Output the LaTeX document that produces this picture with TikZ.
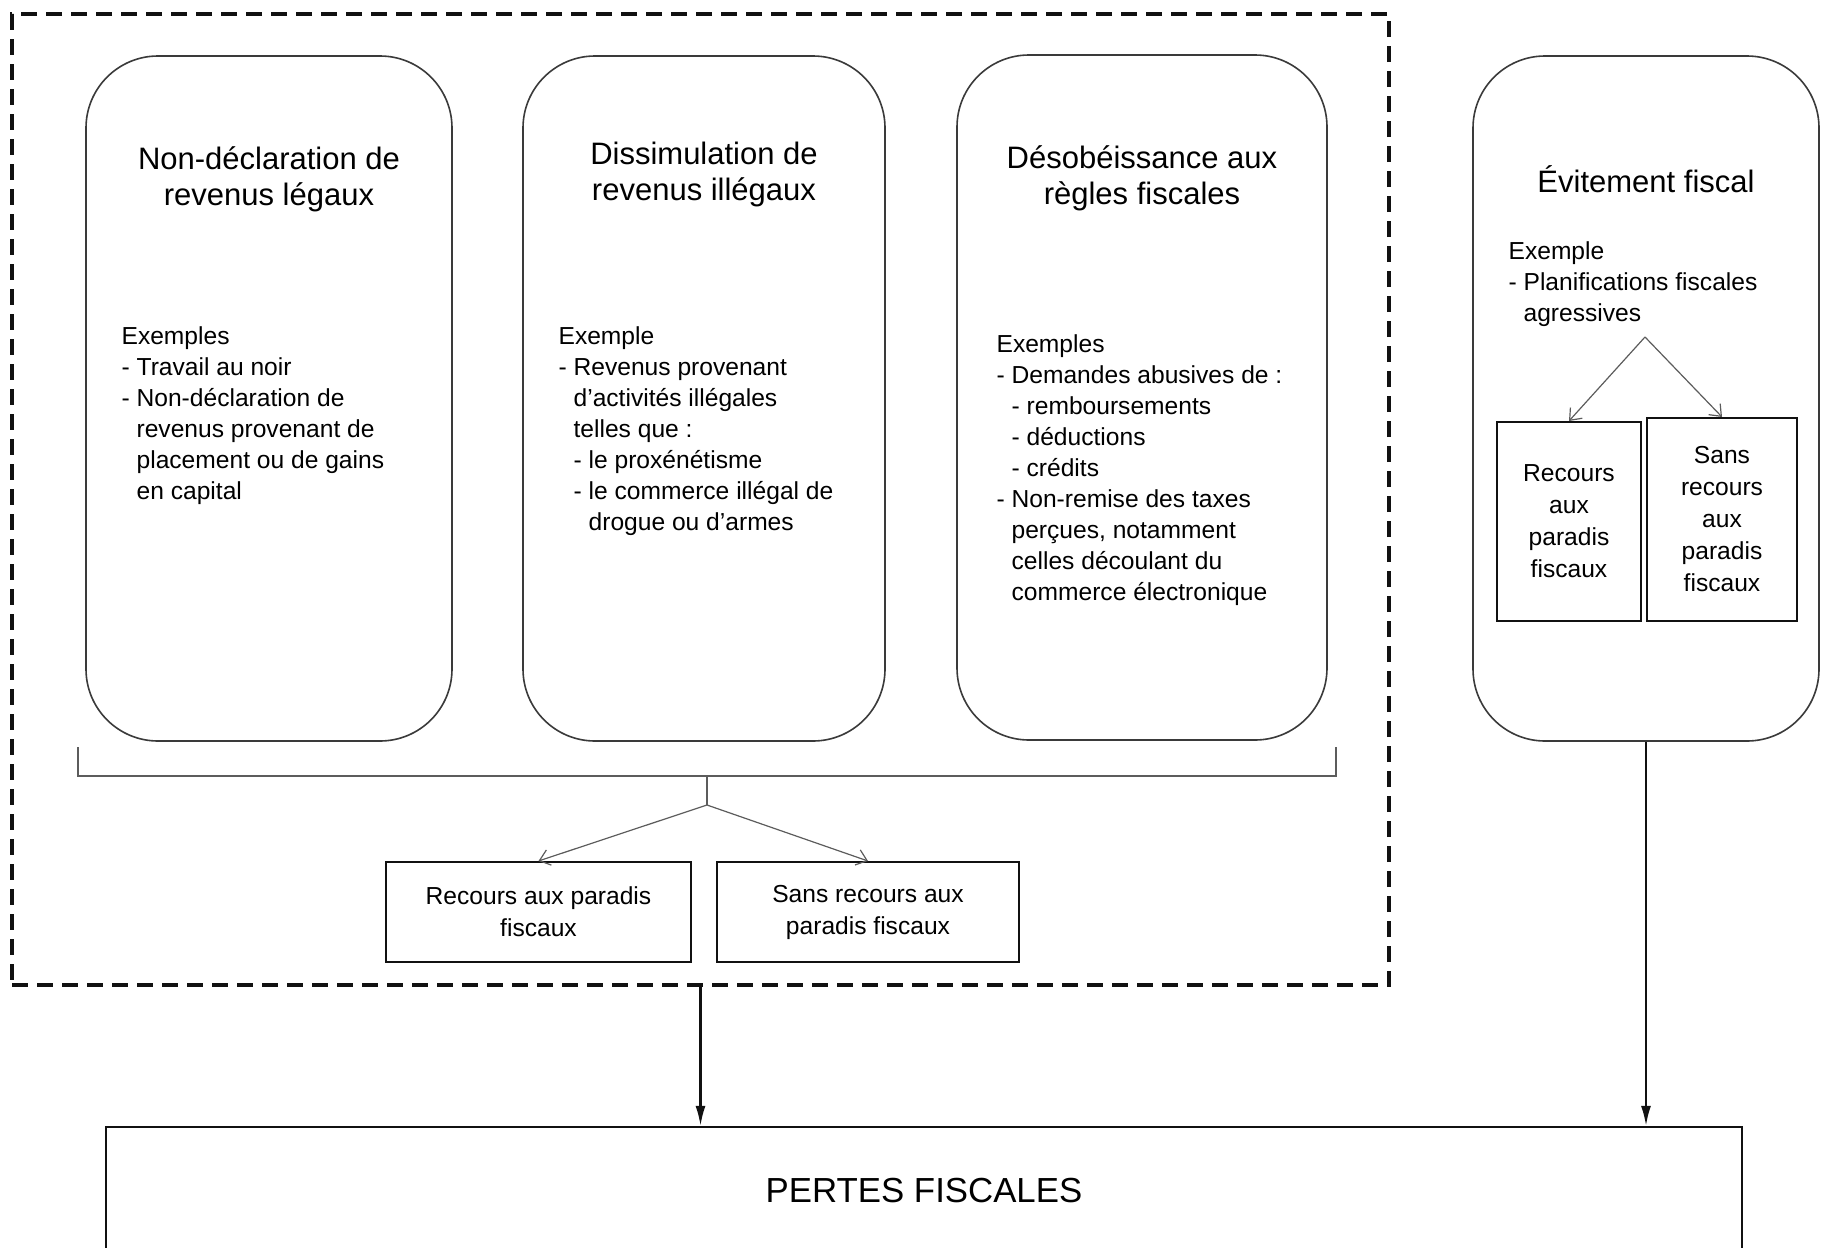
\documentclass[tikz,border=0pt]{standalone}
\usepackage{fontspec}
\setmainfont{Liberation Sans}
\usepackage{tikz}
\usetikzlibrary{arrows.meta,positioning}
\definecolor{Ink}{HTML}{111111}
\definecolor{Edge}{HTML}{3A3A3A}
\definecolor{Rule}{HTML}{5C5C5C}
\newcommand{\ind}{\phantom{-~}}
\tikzset{
  pill/.style={draw=Edge, line width=0.8pt, rounded corners=36pt,
               minimum width=182pt, minimum height=342.5pt},
  head/.style={align=center, inner sep=0pt, font=\fontsize{15.5}{18}\selectfont},
  note/.style={align=left, inner sep=0pt, font=\fontsize{12.3}{15.5}\selectfont},
  cell/.style={draw=Ink, line width=1pt, align=center, inner sep=2pt,
               font=\fontsize{12.3}{16}\selectfont},
  zone/.style={draw=Ink, line width=1.6pt, dash pattern=on 8pt off 4.5pt},
  arrow/.style={-{Latex[length=10pt,width=5pt]}, line width=1.1pt, draw=Ink},
  arrowthin/.style={-{Straight Barb[length=5pt,width=8pt]}, line width=0.6pt, draw=Rule},
  bar/.style={line width=1.2pt, draw=Rule},
}
\begin{document}
\begin{tikzpicture}[x=0.5pt, y=-0.5pt]
  \useasboundingbox (0,0) rectangle (1822,1248);
  % fraude fiscale
  \node[zone, minimum width=688.5pt, minimum height=485.5pt] (zone) at (700.5,499.5) {};
  \node[pill, minimum width=183pt] (b1) at (269,398.5) {};
  \node[pill, minimum width=181pt] (b2) at (704,398.5) {};
  \node[pill, minimum width=185pt] (b3) at (1142,397.5) {};
  \node[head] (t1) at ([yshift=-62pt]b1.north) {Non-déclaration de\\revenus légaux};
  \node[head] (t2) at ([yshift=-59.5pt]b2.north) {Dissimulation de\\revenus illégaux};
  \node[head] (t3) at ([yshift=-62pt]b3.north) {Désobéissance aux\\règles fiscales};
  \node[note, below right=135.5pt and 18pt of b1.north west] (n1)
    {Exemples\\- Travail au noir\\- Non-déclaration de\\\ind revenus provenant de\\\ind placement ou de gains\\\ind en capital};
  \node[note, below right=135.5pt and 18pt of b2.north west] (n2)
    {Exemple\\- Revenus provenant\\\ind d'activités illégales\\\ind telles que :\\\ind - le proxénétisme\\\ind - le commerce illégal de\\\ind\ind drogue ou d'armes};
  \node[note, below right=140pt and 20pt of b3.north west] (n3)
    {Exemples\\- Demandes abusives de :\\\ind - remboursements\\\ind - déductions\\\ind - crédits\\- Non-remise des taxes\\\ind perçues, notamment\\\ind celles découlant du\\\ind commerce électronique};
  \coordinate (brL) at (78,747);
  \coordinate (brR) at (1336,747);
  \coordinate (brB) at (707,776);
  \coordinate (split) at (707,805);
  \draw[bar] (brL) |- (brB) -| (brR);
  \draw[bar] (brB) -- (split);
  \node[cell, minimum width=152.5pt, minimum height=50pt] (rec) at (538.5,912) {Recours aux paradis\\fiscaux};
  \node[cell, minimum width=151pt, minimum height=50pt] (sans) at (868,912) {Sans recours aux\\paradis fiscaux};
  \draw[arrowthin] (split) -- (rec.north);
  \draw[arrowthin] (split) -- (sans.north);
  % evitement fiscal
  \node[pill, minimum width=173pt] (b4) at (1646,398.5) {};
  \node[head] (t4) at ([yshift=-62pt]b4.north) {Évitement fiscal};
  \node[note, below right=93pt and 18pt of b4.north west] (n4)
    {Exemple\\- Planifications fiscales\\\ind agressives};
  \coordinate (split4) at (1645,337);
  \node[cell, minimum width=72pt, minimum height=99.5pt] (rec4) at (1569,521.5) {Recours\\aux\\paradis\\fiscaux};
  \node[cell, minimum width=75pt, minimum height=101.5pt] (sans4) at (1722,519.5) {Sans\\recours\\aux\\paradis\\fiscaux};
  \draw[arrowthin] (split4) -- (rec4.north);
  \draw[arrowthin] (split4) -- (sans4.north);
  % pertes
  \node[draw=Ink, line width=1.1pt, minimum width=818pt, minimum height=64pt,
        font=\fontsize{17.4}{20}\selectfont] (pertes) at (924,1191) {PERTES FISCALES};
  \draw[arrow] (zone.south) -- (zone.south |- pertes.north);
  \draw[arrow] (b4.south) -- (b4.south |- pertes.north);
\end{tikzpicture}
\end{document}
